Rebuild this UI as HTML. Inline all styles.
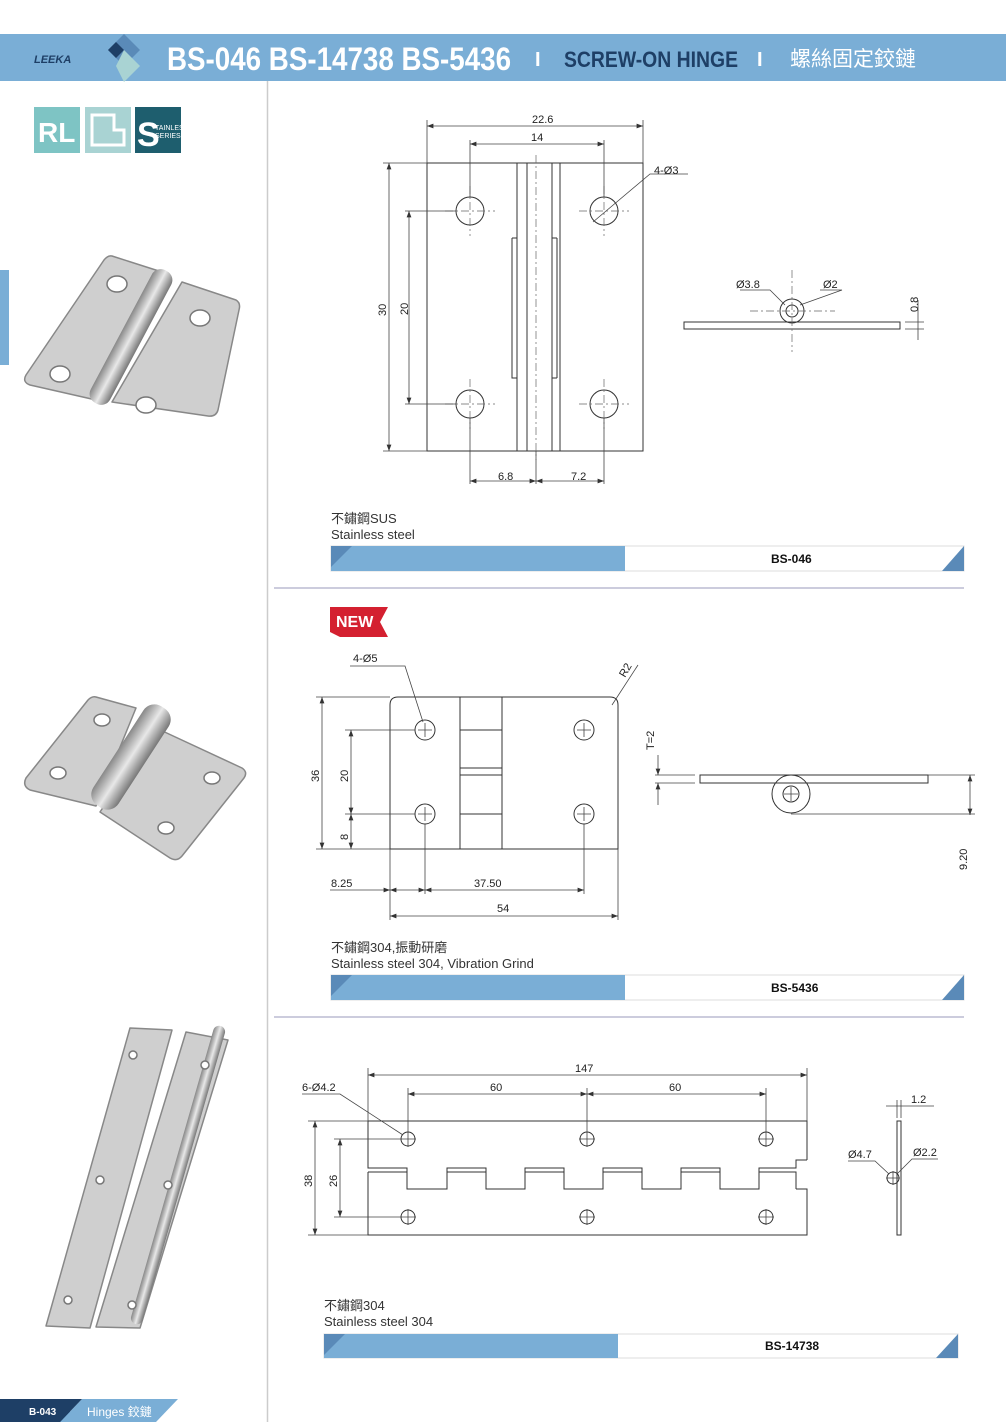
<!DOCTYPE html>
<html><head><meta charset="utf-8"><style>
body{margin:0;background:#fff}
svg{display:block}
text{font-family:"Liberation Sans","Noto Sans CJK TC",sans-serif}
.l{stroke:#333;stroke-width:1;fill:none}
.d{stroke:#444;stroke-width:0.8;fill:none}
.c{stroke:#666;stroke-width:0.7;fill:none;stroke-dasharray:8 3 2 3}
.t{font-size:11px;fill:#222}
.ph{fill:#cfcfcf;stroke:#888;stroke-width:1.5;stroke-linejoin:round}
.hl{fill:#fff;stroke:#777;stroke-width:1.5}
</style></head><body>
<svg width="1006" height="1422" viewBox="0 0 1006 1422" xmlns="http://www.w3.org/2000/svg">
<defs><marker id="a" markerWidth="8" markerHeight="6" refX="8" refY="3" orient="auto-start-reverse"><path d="M0,0 L8,3 L0,6z" fill="#333"/></marker>
<linearGradient id="g" x1="0" y1="0" x2="1" y2="0"><stop offset="0" stop-color="#888"/><stop offset="0.5" stop-color="#e8e8e8"/><stop offset="1" stop-color="#777"/></linearGradient></defs>
<!-- header -->
<rect x="0" y="34" width="1006" height="47" fill="#7aaed6"/>
<text x="34" y="63" font-size="11" font-style="italic" font-weight="bold" fill="#1e3f66">LEEKA</text>
<polygon points="124,34 140,50 124,66 108,50" fill="#5a8ab8"/>
<polygon points="116,42 124,50 116,58 108,50" fill="#1e3f66"/>
<polygon points="124,50 140,66 124,82 116,66" fill="#a9d3d3"/>
<text x="167" y="70" font-size="32" font-weight="bold" fill="#fff" textLength="344" lengthAdjust="spacingAndGlyphs">BS-046 BS-14738 BS-5436</text>
<text x="535" y="66" font-size="20" font-weight="bold" fill="#fff">I</text>
<text x="564" y="67" font-size="22" font-weight="bold" fill="#1e3f66" textLength="174" lengthAdjust="spacingAndGlyphs">SCREW-ON HINGE</text>
<text x="757" y="66" font-size="20" font-weight="bold" fill="#fff">I</text>
<text x="790" y="66" font-size="21" fill="#fff">螺絲固定鉸鏈</text>
<!-- left col -->
<line x1="267.5" y1="81" x2="267.5" y2="1422" stroke="#ccc" stroke-width="1.5"/>
<rect x="0" y="270" width="9" height="95" fill="#7aaed6"/>
<rect x="34" y="107" width="46" height="46" fill="#7ec4c4"/>
<text x="38" y="142" font-size="28" font-weight="bold" fill="#fff">RL</text>
<rect x="85" y="107" width="46" height="46" fill="#a9d3d3"/>
<path d="M92,115 h22 v15 h10 v15 h-32z" fill="none" stroke="#fff" stroke-width="3"/>
<rect x="135" y="107" width="46" height="46" fill="#1e5e6e"/>
<text x="137" y="146" font-size="34" font-weight="bold" fill="#fff">S</text>
<text x="155" y="130" font-size="7" fill="#fff">TAINLESS</text>
<text x="155" y="138" font-size="7" fill="#fff">SERIES</text>
<!-- photo 1 -->
<path class="ph" d="M112,256 L162,272 L96,400 L30,385 Q22,382 26,375 L104,260 Q108,255 112,256z"/>
<path class="ph" d="M182,282 L236,300 Q241,303 239,310 L218,410 Q216,417 208,416 L112,402z"/>
<rect x="120" y="262" width="22" height="150" rx="10" fill="url(#g)" transform="rotate(28 131 337)"/>
<ellipse class="hl" cx="117" cy="284" rx="10" ry="8"/><ellipse class="hl" cx="60" cy="374" rx="10" ry="8"/>
<ellipse class="hl" cx="200" cy="318" rx="10" ry="8"/><ellipse class="hl" cx="146" cy="405" rx="10" ry="8"/>
<!-- photo 2 -->
<path class="ph" d="M96,697 L136,708 L96,806 L30,790 Q22,786 26,778 L88,700 Q92,696 96,697z"/>
<path class="ph" d="M156,728 L242,768 Q248,772 244,778 L182,856 Q177,862 170,858 L100,812z"/>
<rect x="116" y="698" width="30" height="118" rx="13" fill="url(#g)" transform="rotate(33 131 757)"/>
<ellipse class="hl" cx="102" cy="720" rx="8" ry="6"/><ellipse class="hl" cx="58" cy="773" rx="8" ry="6"/>
<ellipse class="hl" cx="212" cy="778" rx="8" ry="6"/><ellipse class="hl" cx="166" cy="828" rx="8" ry="6"/>
<!-- photo 3 -->
<path class="ph" d="M130,1028 L172,1030 L90,1328 L46,1326z"/>
<path class="ph" d="M186,1032 L228,1040 L140,1328 L96,1327z"/>
<rect x="172" y="1020" width="12" height="310" rx="6" fill="url(#g)" transform="rotate(16 178 1175)"/>
<g class="hl"><circle cx="133" cy="1055" r="4"/><circle cx="100" cy="1180" r="4"/><circle cx="68" cy="1300" r="4"/><circle cx="205" cy="1065" r="4"/><circle cx="168" cy="1185" r="4"/><circle cx="132" cy="1305" r="4"/></g>
<!-- footer -->
<rect x="0" y="1399" width="70" height="23" fill="#1e3f66"/>
<polygon points="60,1422 82,1399 178,1399 156,1422" fill="#7aaed6"/>
<polygon points="40,1422 62,1399 82,1399 60,1422" fill="#1e3f66"/>
<text x="29" y="1415" font-size="10" font-weight="bold" fill="#fff">B-043</text>
<text x="87" y="1416" font-size="12" fill="#fff">Hinges 鉸鏈</text>

<!-- drawing 1 -->
<g>
<rect class="l" x="427" y="163" width="90" height="288"/>
<rect class="l" x="560" y="163" width="83" height="288"/>
<path class="l" d="M517,163 H552 M517,451 H552 M527,163 V451 M552,163 V451 M552,163 H560 M552,451 H560 M512,238 L517,238 M512,238 V378 H517 M557,238 V378 M552,238 H557 M552,378 H557"/>
<circle class="l" cx="470" cy="211" r="14"/><circle class="l" cx="604" cy="211" r="14"/>
<circle class="l" cx="470" cy="404" r="14"/><circle class="l" cx="604" cy="404" r="14"/>
<path class="c" d="M445,211 H495 M579,211 H629 M445,404 H495 M579,404 H629 M470,186 V236 M604,186 V236 M470,379 V429 M604,379 V429 M536,155 V460"/>
<path class="d" d="M427,163 V120 M643,163 V120 M470,197 V140 M604,197 V140 M427,163 H383 M427,451 H383 M456,211 H405 M456,404 H405 M470,418 V484 M604,418 V484 M536,451 V484"/>
<line class="d" x1="427" y1="126" x2="643" y2="126" marker-start="url(#a)" marker-end="url(#a)"/>
<line class="d" x1="470" y1="144" x2="604" y2="144" marker-start="url(#a)" marker-end="url(#a)"/>
<line class="d" x1="389" y1="163" x2="389" y2="451" marker-start="url(#a)" marker-end="url(#a)"/>
<line class="d" x1="409" y1="211" x2="409" y2="404" marker-start="url(#a)" marker-end="url(#a)"/>
<line class="d" x1="470" y1="481" x2="536" y2="481" marker-start="url(#a)" marker-end="url(#a)"/>
<line class="d" x1="536" y1="481" x2="604" y2="481" marker-start="url(#a)" marker-end="url(#a)"/>
<text class="t" x="532" y="123">22.6</text><text class="t" x="531" y="141">14</text>
<text class="t" x="386" y="316" transform="rotate(-90 386 316)">30</text>
<text class="t" x="408" y="315" transform="rotate(-90 408 315)">20</text>
<text class="t" x="498" y="480">6.8</text><text class="t" x="571" y="480">7.2</text>
<path class="d" d="M593,222 L650,174 H688"/><text class="t" x="654" y="174">4-Ø3</text>
<rect class="l" x="684" y="322" width="216" height="7"/>
<circle class="l" cx="792" cy="311" r="12"/><circle class="l" cx="792" cy="311" r="6"/>
<path class="c" d="M750,311 H835 M792,270 V352"/>
<path class="d" d="M740,290 H770 L785,305 M820,290 H842 L800,305 M905,322 H924 M905,329 H924 M918,300 V340"/>
<text class="t" x="736" y="288">Ø3.8</text><text class="t" x="823" y="288">Ø2</text>
<text class="t" x="918" y="312" transform="rotate(-90 918 312)">0.8</text>
</g>
<text x="331" y="523" font-size="13" fill="#333">不鏽鋼SUS</text>
<text x="331" y="539" font-size="13" fill="#333">Stainless steel</text>
<rect x="331" y="546" width="633" height="25" fill="#fff" stroke="#ddd"/>
<rect x="331" y="546" width="294" height="25" fill="#7aaed6"/>
<polygon points="331,546 352,546 331,567" fill="#5a8ab8"/>
<polygon points="964,546 964,571 942,571" fill="#5a8ab8"/>
<text x="771" y="563" font-size="12" font-weight="bold" fill="#111">BS-046</text>
<line x1="274" y1="588" x2="964" y2="588" stroke="#ccd" stroke-width="2"/>

<!-- drawing 2 -->
<polygon points="330,607 388,607 380,622 388,637 340,637 330,632" fill="#d42030"/>
<text x="336" y="627" font-size="16" font-weight="bold" fill="#fff">NEW</text>
<g>
<path class="l" d="M398,697 H460 V849 H390 V705 Q390,697 398,697z M502,697 H610 Q618,697 618,705 V849 H502z"/>
<path class="l" d="M460,697 H502 M460,849 H502 M460,730 H502 V768 H460 M460,775 H502 V814 H460"/>
<circle class="l" cx="425" cy="730" r="10"/><circle class="l" cx="584" cy="730" r="10"/>
<circle class="l" cx="425" cy="814" r="10"/><circle class="l" cx="584" cy="814" r="10"/>
<path class="d" d="M418,730 H432 M425,723 V737 M577,730 H591 M584,723 V737 M418,814 H432 M425,807 V821 M577,814 H591 M584,807 V821"/>
<path class="d" d="M390,697 H316 M390,849 H316 M415,730 H345 M415,814 H345 M390,849 V920 M425,824 V894 M584,824 V894 M618,849 V920"/>
<line class="d" x1="322" y1="697" x2="322" y2="849" marker-start="url(#a)" marker-end="url(#a)"/>
<line class="d" x1="351" y1="730" x2="351" y2="814" marker-start="url(#a)" marker-end="url(#a)"/>
<line class="d" x1="351" y1="814" x2="351" y2="849" marker-start="url(#a)" marker-end="url(#a)"/>
<line class="d" x1="330" y1="890" x2="390" y2="890" marker-end="url(#a)"/>
<line class="d" x1="390" y1="890" x2="425" y2="890" marker-start="url(#a)" marker-end="url(#a)"/>
<line class="d" x1="425" y1="890" x2="584" y2="890" marker-start="url(#a)" marker-end="url(#a)"/>
<line class="d" x1="390" y1="916" x2="618" y2="916" marker-start="url(#a)" marker-end="url(#a)"/>
<text class="t" x="319" y="782" transform="rotate(-90 319 782)">36</text>
<text class="t" x="348" y="782" transform="rotate(-90 348 782)">20</text>
<text class="t" x="348" y="840" transform="rotate(-90 348 840)">8</text>
<text class="t" x="331" y="887">8.25</text><text class="t" x="474" y="887">37.50</text><text class="t" x="497" y="912">54</text>
<path class="d" d="M350,666 H405 L423,722"/><text class="t" x="353" y="662">4-Ø5</text>
<path class="d" d="M612,705 L638,665"/><text class="t" x="625" y="678" transform="rotate(-60 625 678)">R2</text>
<rect class="l" x="700" y="775" width="228" height="8"/>
<circle class="l" cx="791" cy="794" r="19"/><circle class="l" cx="791" cy="794" r="8"/>
<path class="d" d="M784,794 H798 M791,787 V801 M791,814 H975 M928,775 H975 M655,775 H695 M655,783 H695"/>
<line class="d" x1="970" y1="775" x2="970" y2="815" marker-start="url(#a)" marker-end="url(#a)"/>
<line class="d" x1="658" y1="755" x2="658" y2="775" marker-end="url(#a)"/>
<line class="d" x1="658" y1="805" x2="658" y2="783" marker-end="url(#a)"/>
<text class="t" x="654" y="750" transform="rotate(-90 654 750)">T=2</text>
<text class="t" x="967" y="870" transform="rotate(-90 967 870)">9.20</text>
</g>
<text x="331" y="952" font-size="13" fill="#333">不鏽鋼304,振動研磨</text>
<text x="331" y="968" font-size="13" fill="#333">Stainless steel 304, Vibration Grind</text>
<rect x="331" y="975" width="633" height="25" fill="#fff" stroke="#ddd"/>
<rect x="331" y="975" width="294" height="25" fill="#7aaed6"/>
<polygon points="331,975 352,975 331,996" fill="#5a8ab8"/>
<polygon points="964,975 964,1000 942,1000" fill="#5a8ab8"/>
<text x="771" y="992" font-size="12" font-weight="bold" fill="#111">BS-5436</text>
<line x1="274" y1="1017" x2="964" y2="1017" stroke="#ccd" stroke-width="2"/>

<!-- drawing 3 -->
<g>
<path class="l" d="M368,1121 H807 V1160 M368,1121 V1168 H407 V1189 H447 V1168 H486 V1189 H525 V1168 H564 V1189 H603 V1168 H642 V1189 H681 V1168 H720 V1189 H759 V1168 H796 V1160 H807 M368,1172 V1235 H807 V1189 H796 M368,1172 H407 M447,1172 H486 M525,1172 H564 M603,1172 H642 M681,1172 H720 M759,1172 H796 V1189"/>
<g class="l"><circle cx="408" cy="1139" r="7"/><circle cx="587" cy="1139" r="7"/><circle cx="766" cy="1139" r="7"/><circle cx="408" cy="1217" r="7"/><circle cx="587" cy="1217" r="7"/><circle cx="766" cy="1217" r="7"/></g>
<path class="d" d="M400,1139 H416 M408,1131 V1147 M579,1139 H595 M587,1131 V1147 M758,1139 H774 M766,1131 V1147 M400,1217 H416 M408,1209 V1225 M579,1217 H595 M587,1209 V1225 M758,1217 H774 M766,1209 V1225"/>
<path class="d" d="M368,1121 V1068 M807,1121 V1068 M408,1131 V1088 M587,1131 V1088 M766,1131 V1088 M368,1121 H308 M368,1235 H308 M400,1139 H334 M400,1217 H334"/>
<line class="d" x1="368" y1="1075" x2="807" y2="1075" marker-start="url(#a)" marker-end="url(#a)"/>
<line class="d" x1="408" y1="1094" x2="587" y2="1094" marker-start="url(#a)" marker-end="url(#a)"/>
<line class="d" x1="587" y1="1094" x2="766" y2="1094" marker-start="url(#a)" marker-end="url(#a)"/>
<line class="d" x1="315" y1="1121" x2="315" y2="1235" marker-start="url(#a)" marker-end="url(#a)"/>
<line class="d" x1="340" y1="1139" x2="340" y2="1217" marker-start="url(#a)" marker-end="url(#a)"/>
<text class="t" x="575" y="1072">147</text><text class="t" x="490" y="1091">60</text><text class="t" x="669" y="1091">60</text>
<text class="t" x="312" y="1187" transform="rotate(-90 312 1187)">38</text>
<text class="t" x="337" y="1187" transform="rotate(-90 337 1187)">26</text>
<path class="d" d="M302,1094 H340 L403,1135"/><text class="t" x="302" y="1091">6-Ø4.2</text>
<rect class="l" x="897" y="1121" width="4" height="114"/>
<circle class="l" cx="893" cy="1178" r="6"/>
<path class="d" d="M886,1178 H900 M893,1171 V1185 M848,1161 H875 L889,1174 M938,1159 H912 L897,1174 M886,1106 H934 M897,1100 V1118 M901,1100 V1118"/>
<text class="t" x="848" y="1158">Ø4.7</text><text class="t" x="913" y="1156">Ø2.2</text><text class="t" x="911" y="1103">1.2</text>
</g>
<text x="324" y="1310" font-size="13" fill="#333">不鏽鋼304</text>
<text x="324" y="1326" font-size="13" fill="#333">Stainless steel 304</text>
<rect x="324" y="1334" width="634" height="24" fill="#fff" stroke="#ddd"/>
<rect x="324" y="1334" width="294" height="24" fill="#7aaed6"/>
<polygon points="324,1334 345,1334 324,1355" fill="#5a8ab8"/>
<polygon points="958,1334 958,1358 936,1358" fill="#5a8ab8"/>
<text x="765" y="1350" font-size="12" font-weight="bold" fill="#111">BS-14738</text>
</svg>
</body></html>
